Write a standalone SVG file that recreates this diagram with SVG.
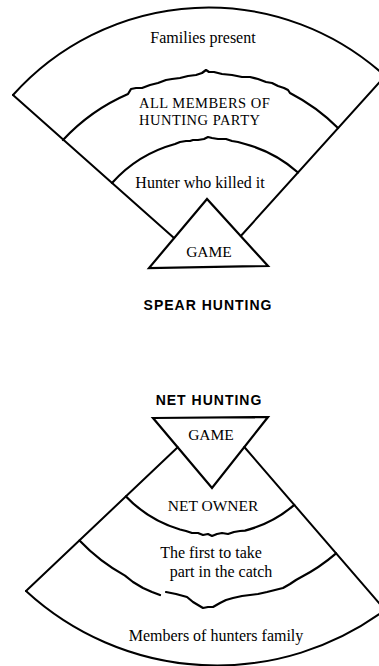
<svg xmlns="http://www.w3.org/2000/svg" width="379" height="666" viewBox="0 0 379 666">
<style>
.ln{fill:none;stroke:#000;stroke-width:2;stroke-linejoin:round;stroke-linecap:round}
.jag{fill:none;stroke:#000;stroke-width:2.2;stroke-linejoin:round;stroke-linecap:round}
.tri{fill:none;stroke:#000;stroke-width:2.2;stroke-linejoin:miter}
.t{font-family:"Liberation Serif","Times New Roman",serif;font-size:16px;fill:#000;text-anchor:middle}
.c{font-family:"Liberation Serif","Times New Roman",serif;font-size:15.5px;fill:#000;text-anchor:middle}
.cs{font-family:"Liberation Serif","Times New Roman",serif;font-size:14.5px;letter-spacing:0.5px;fill:#000;text-anchor:start}
.h{font-family:"Liberation Sans",Arial,sans-serif;font-size:14px;font-weight:bold;letter-spacing:1px;fill:#000;text-anchor:middle}
</style>
<rect width="379" height="666" fill="#fff"/>
<g id="connectors">
  <path class="ln" d="M 13 95 L 174 238"/>
  <path class="ln" d="M 385 76 L 240.8 236"/>
  <path class="ln" d="M 177.7 447.3 L 26 591"/>
  <path class="ln" d="M 244.3 447 L 385 610"/>
</g>
<g id="spear-families">
  <path class="ln" d="M 13 95 A 262 262 0 0 1 385 76"/>
  <text class="t" x="203" y="43">Families present</text>
</g>
<g id="spear-party">
  <path class="jag" d="M 63 140 A 194 194 0 0 1 128 94 L 131 89 L 136 88 L 142 88 L 150 85 L 158 83 L 166 80 L 172 79 L 180 78 L 188 76 L 196 75 L 202 73 L 206 70 L 209 72 L 214 72 L 222 74 L 232 75 L 242 77 L 250 77 L 258 79 L 266 82 L 272 83 L 278 86 L 284 88 L 288 90 L 290 93 A 194 194 0 0 1 338 128"/>
  <text class="cs" x="139" y="108">ALL MEMBERS OF</text>
  <text class="cs" x="139" y="124.5">HUNTING PARTY</text>
</g>
<g id="spear-hunter">
  <path class="jag" d="M 112 183 A 131 131 0 0 1 175 144 L 180 142 L 186 141 L 190 141 L 193 140 L 198 140 L 204 139 L 208 137 L 212 138 L 218 139 L 226 139 L 232 141 L 238 142 L 245 144 A 131 131 0 0 1 298 172.5"/>
  <text class="t" x="200" y="188">Hunter who killed it</text>
</g>
<g id="spear-game">
  <path class="tri" d="M 207 199 L 149 268 L 268 266 Z"/>
  <text class="c" x="209" y="257">GAME</text>
</g>
<g id="spear-title">
  <text class="h" x="208" y="310">SPEAR HUNTING</text>
</g>
<g id="net-title">
  <text class="h" x="209" y="405">NET HUNTING</text>
</g>
<g id="net-game">
  <path class="tri" d="M 153 418 L 268 417 L 212 488 Z"/>
  <text class="c" x="211" y="440">GAME</text>
</g>
<g id="net-owner">
  <path class="jag" d="M 126 496.4 A 122 122 0 0 0 180 529.5 L 186 531 L 192 533 L 198 533 L 203 535 L 208 534 L 212 536 L 217 534 L 222 533 L 228 534 L 234 532 L 240 531 L 245 530.6 A 122 122 0 0 0 294.3 504.9"/>
  <text class="c" x="213" y="511">NET OWNER</text>
</g>
<g id="net-first">
  <path class="jag" d="M 79.5 540.5 A 186 186 0 0 0 125 575.6 L 133 582 L 143 588 L 152 592 L 160 595 M 166 592 L 176 594 L 187 597 L 193 602 L 198 605 L 203 608 L 208 607 L 213 607 L 220 603 L 226 600 L 233 598 L 242 596 L 250 595 L 258 594 L 267 592 L 275 590 L 283 588 L 290 584 L 296 580 L 300 577.7 A 186 186 0 0 0 336.1 553.3"/>
  <text class="t" x="211" y="558">The first to take</text>
  <text class="t" x="221" y="577">part in the catch</text>
</g>
<g id="net-family">
  <path class="ln" d="M 26 591 A 282 282 0 0 0 385 610"/>
  <text class="t" x="216" y="641">Members of hunters family</text>
</g>
</svg>
